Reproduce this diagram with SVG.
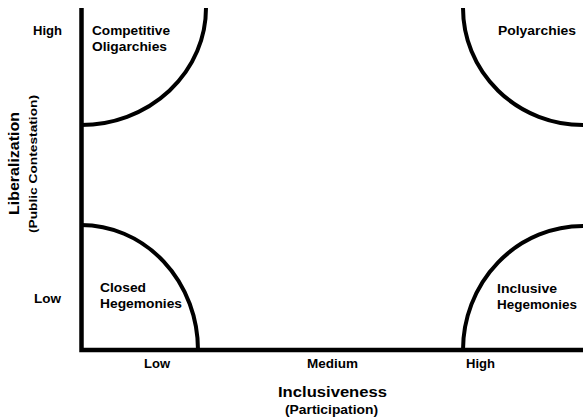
<svg xmlns="http://www.w3.org/2000/svg" width="583" height="419" viewBox="0 0 583 419">
<style>
text{font-family:"Liberation Sans",Arial,sans-serif;font-weight:bold;fill:#000}
.s{font-size:13px}
.arc{fill:none;stroke:#000;stroke-width:4}
.ax{fill:none;stroke:#000;stroke-width:4.5}
</style>
<rect width="583" height="419" fill="#fff"/>
<g id="axes">
<path class="ax" d="M81.5,8 V350 H583"/>
</g>
<g id="connectors">
<path class="arc" d="M206,8 A125,117 0 0 1 81,125"/>
<path class="arc" d="M463,8 A120,117 0 0 0 583,125"/>
<path class="arc" d="M81,225 A117,125 0 0 1 198,350"/>
<path class="arc" d="M583,226 A120,124 0 0 0 463,350"/>
</g>
<g id="competitive-oligarchies">
<text class="s" x="92" y="35" textLength="78" lengthAdjust="spacingAndGlyphs">Competitive</text>
<text class="s" x="92" y="51" textLength="75" lengthAdjust="spacingAndGlyphs">Oligarchies</text>
</g>
<g id="polyarchies">
<text class="s" x="498" y="35" textLength="78" lengthAdjust="spacingAndGlyphs">Polyarchies</text>
</g>
<g id="closed-hegemonies">
<text class="s" x="100" y="292" textLength="46" lengthAdjust="spacingAndGlyphs">Closed</text>
<text class="s" x="100" y="308" textLength="82" lengthAdjust="spacingAndGlyphs">Hegemonies</text>
</g>
<g id="inclusive-hegemonies">
<text class="s" x="497" y="293" textLength="60" lengthAdjust="spacingAndGlyphs">Inclusive</text>
<text class="s" x="497" y="309" textLength="80" lengthAdjust="spacingAndGlyphs">Hegemonies</text>
</g>
<g id="axis-labels">
<text class="s" x="33" y="35" textLength="29" lengthAdjust="spacingAndGlyphs">High</text>
<text class="s" x="34" y="303" textLength="27" lengthAdjust="spacingAndGlyphs">Low</text>
<text class="s" x="144" y="368" textLength="26" lengthAdjust="spacingAndGlyphs">Low</text>
<text class="s" x="307" y="368" textLength="51" lengthAdjust="spacingAndGlyphs">Medium</text>
<text class="s" x="466" y="368" textLength="29" lengthAdjust="spacingAndGlyphs">High</text>
<text x="278" y="397" font-size="15" textLength="109" lengthAdjust="spacingAndGlyphs">Inclusiveness</text>
<text x="285" y="414" font-size="12" textLength="93" lengthAdjust="spacingAndGlyphs">(Participation)</text>
<text transform="translate(19,215) rotate(-90)" font-size="15" textLength="103" lengthAdjust="spacingAndGlyphs">Liberalization</text>
<text transform="translate(37,233) rotate(-90)" font-size="11" textLength="138" lengthAdjust="spacingAndGlyphs">(Public Contestation)</text>
</g>
</svg>
